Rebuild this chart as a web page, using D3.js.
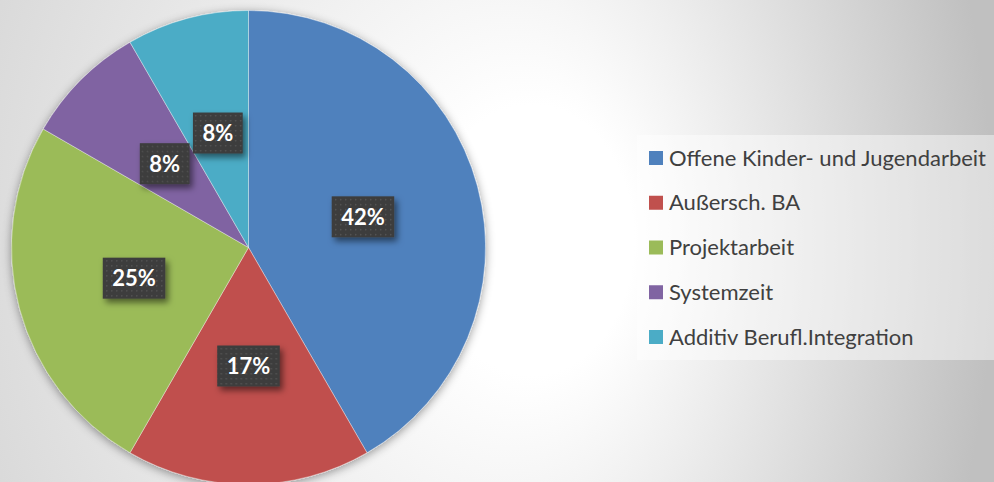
<!DOCTYPE html>
<html>
<head>
<meta charset="utf-8">
<script src="https://cdn.jsdelivr.net/npm/d3@7"></script>
<style>
    body { margin: 0; padding: 0; overflow: hidden; }
    svg { display: block; }
</style>
</head>
<body>
<svg id="chart" width="994" height="482"></svg>
<script>
    // data
    var categories = ["Offene Kinder- und Jugendarbeit", "Außersch. BA", "Projektarbeit", "Systemzeit", "Additiv Berufl.Integration"];
    var values = [5, 2, 3, 1, 1];
    var colors = ["#4f81bd", "#c0504d", "#9bbb59", "#8064a2", "#4bacc6"];

    var width = 994,
        height = 482,
        cx = 248.5,
        cy = 247.5,
        radius = 237;

    var svg = d3.select("#chart");
    var defs = svg.append("defs");

    // background gradient
    var bg = defs.append("radialGradient")
        .attr("id", "bgGrad")
        .attr("gradientUnits", "userSpaceOnUse")
        .attr("cx", 0).attr("cy", 0).attr("r", 1)
        .attr("fx", 0.376).attr("fy", 0)
        .attr("gradientTransform", "translate(315,240) scale(679,900)");
    bg.append("stop").attr("offset", 0).attr("stop-color", "#ffffff");
    bg.append("stop").attr("offset", 0.15).attr("stop-color", "#ffffff");
    bg.append("stop").attr("offset", 1).attr("stop-color", "#c0c0c0");

    var pieShadow = defs.append("filter").attr("id", "pieShadow")
        .attr("x", "-20%").attr("y", "-20%").attr("width", "140%").attr("height", "140%");
    pieShadow.append("feDropShadow")
        .attr("dx", 0).attr("dy", 2).attr("stdDeviation", 5)
        .attr("flood-color", "#000").attr("flood-opacity", 0.4);

    var boxShadow = defs.append("filter").attr("id", "boxShadow")
        .attr("x", "-30%").attr("y", "-30%").attr("width", "170%").attr("height", "170%");
    boxShadow.append("feDropShadow")
        .attr("dx", 3).attr("dy", 4).attr("stdDeviation", 3)
        .attr("flood-color", "#000").attr("flood-opacity", 0.5);

    var dots = defs.append("pattern").attr("id", "dots")
        .attr("patternUnits", "userSpaceOnUse")
        .attr("width", 5).attr("height", 5);
    dots.append("rect").attr("width", 5).attr("height", 5).attr("fill", "#3c3c3c");
    dots.append("rect").attr("x", 2).attr("y", 2).attr("width", 1.5).attr("height", 1.5).attr("fill", "#545454");

    svg.append("rect")
        .attr("width", width)
        .attr("height", height)
        .attr("fill", "url(#bgGrad)");

    // pie
    var pie = d3.pie().sort(null).value(function (d) { return d; });
    var arcs = pie(values);
    var total = d3.sum(values);
    var arc = d3.arc().innerRadius(0).outerRadius(radius);

    var g = svg.append("g").attr("transform", "translate(" + cx + "," + cy + ")");

    g.append("g")
        .attr("filter", "url(#pieShadow)")
        .selectAll("path")
        .data(arcs)
        .enter().append("path")
        .attr("d", arc)
        .attr("fill", function (d, i) { return colors[i]; })
        .attr("stroke", "rgba(255,255,255,0.5)")
        .attr("stroke-width", 0.75);

    // data labels
    var fmt = d3.format(".0%");
    var label = g.selectAll(".label")
        .data(arcs)
        .enter().append("g")
        .attr("class", "label")
        .attr("transform", function (d) { return "translate(" + arc.centroid(d) + ")"; });

    var box = label.append("rect")
        .attr("fill", "url(#dots)")
        .attr("filter", "url(#boxShadow)");

    var txt = label.append("text")
        .attr("text-anchor", "middle")
        .attr("dy", "0.36em")
        .attr("fill", "#ffffff")
        .style("font-family", "Lato, 'Open Sans', sans-serif")
        .style("font-weight", "bold")
        .style("font-size", "22px")
        .text(function (d) { return fmt(d.value / total); });

    txt.each(function () {
        var w = this.getComputedTextLength() + 19;
        d3.select(this.previousSibling)
            .attr("x", -w / 2)
            .attr("y", -20.5)
            .attr("width", w)
            .attr("height", 41);
    });

    // legend
    svg.append("rect")
        .attr("x", 637).attr("y", 135)
        .attr("width", width - 637).attr("height", 225)
        .attr("fill", "#ffffff")
        .attr("fill-opacity", 0.45);

    var ly = d3.scalePoint().domain(categories).range([158, 337]);

    var item = svg.selectAll(".legend")
        .data(categories)
        .enter().append("g")
        .attr("class", "legend")
        .attr("transform", function (d) { return "translate(649," + ly(d) + ")"; });

    item.append("rect")
        .attr("x", 0).attr("y", -7)
        .attr("width", 14).attr("height", 14)
        .attr("fill", function (d, i) { return colors[i]; });

    item.append("text")
        .attr("x", 20)
        .attr("dy", "0.35em")
        .attr("fill", "#404040")
        .style("font-family", "Lato, 'Open Sans', sans-serif")
        .style("font-size", "22px")
        .text(function (d) { return d; });
</script>
</body>
</html>
